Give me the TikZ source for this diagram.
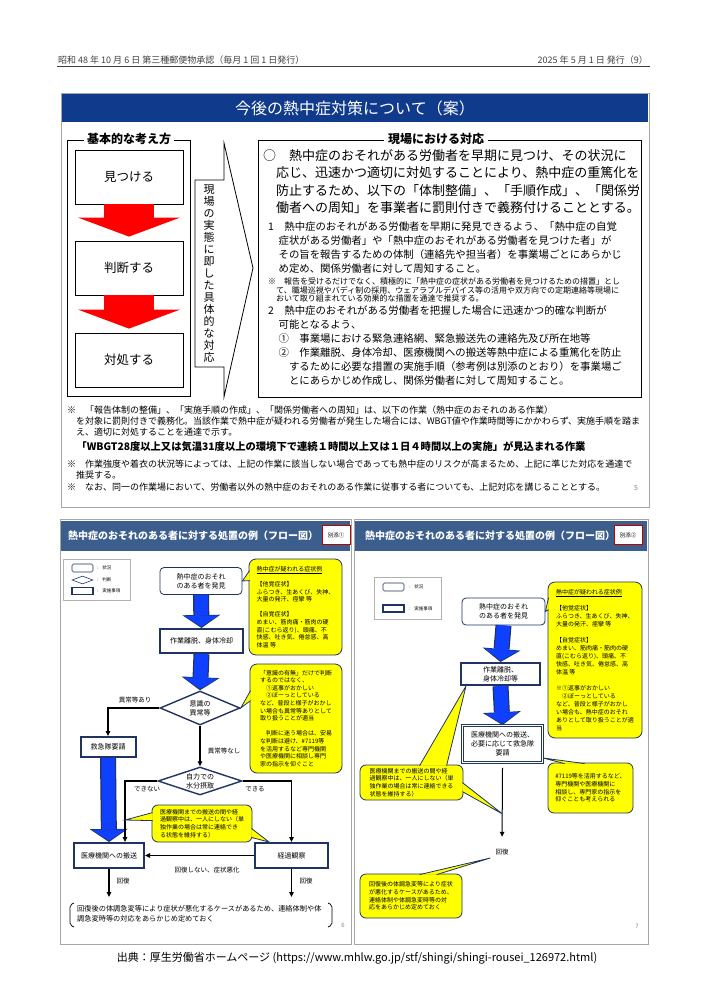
\documentclass[tikz,border=0pt]{standalone}
\usepackage{fontspec}
\setmainfont{Noto Sans CJK JP}
\usetikzlibrary{arrows.meta,shapes.geometric,positioning,calc}
\definecolor{topblue}{RGB}{16,58,140}
\definecolor{barblue}{RGB}{59,94,140}
\definecolor{navy}{RGB}{31,52,96}
\definecolor{arrowblue}{RGB}{16,64,255}
\definecolor{callyellow}{RGB}{255,255,0}
\newcommand\fs[2]{\fontsize{#1}{#2}\selectfont}

\begin{document}
\begin{tikzpicture}[
            x=1pt, y=-1pt,
            hdr/.style={font=\fs{9}{11}, text=black!75, inner sep=0pt},
            txt/.style={inner sep=0pt, align=left, anchor=north west},
            kbox/.style={draw, line width=0.8pt, minimum width=108pt, minimum height=54pt, font=\fs{12.5}{14}},
            redarrow/.style={draw=red, line width=50pt, -{Triangle[length=19pt, width=102pt, line width=0pt]}},
            blueedge/.style={draw=navy, line width=16pt, -{Triangle[length=13pt, width=38pt, line width=0pt]}},
            bluearrow/.style={draw=arrowblue, line width=13.5pt, shorten >=1.3pt, -{Triangle[length=11pt, width=34pt, line width=0pt]}},
            state/.style={draw=navy, line width=0.8pt, rounded corners=4pt, fill=white, align=center, font=\fs{7}{9}, inner sep=1pt},
            action/.style={draw=navy, line width=2pt, fill=white, align=center, font=\fs{7}{9}, inner sep=1pt},
            decide/.style={diamond, aspect=2.6, draw=navy, line width=1.4pt, fill=white, align=center, font=\fs{7}{9}, inner sep=0pt},
            callout/.style={draw=navy, line width=0.8pt, fill=callyellow, rounded corners=7pt, align=left, font=\fs{6}{7.6}, inner sep=0pt},
            wedge/.style={draw=navy, line width=0.8pt, fill=callyellow},
            flow/.style={-{Triangle[length=5pt, width=4.5pt]}, line width=1.2pt},
            lbl/.style={font=\fs{6.5}{8}, inner sep=0pt},
            legend/.style={font=\fs{4.5}{5}, inner sep=0pt, anchor=west},
            betten/.style={draw=red!75!black, line width=0.9pt, fill=white, minimum width=28pt, minimum height=19pt, font=\fs{5.5}{6}, inner sep=0pt},
            bartitle/.style={text=white, font=\bfseries\fs{10}{12}, inner sep=0pt, anchor=west}
        ]
\useasboundingbox (0,0) rectangle (707,1000);

% header
            \node[hdr, anchor=west] (date) at (58,60) {昭和 48 年 10 月 6 日 第三種郵便物承認（毎月 1 回 1 日発行）};
            \node[hdr, anchor=east] (issue) at (648,60) {2025 年 5 月 1 日 発行（9）};
            \draw[line width=1pt, black!75] (57,67) -- (650,67);

% upper panel
            \draw[gray!70] (61,93) rectangle (649,507);
            \fill[topblue] (62,94) rectangle (648,122);
            \node[text=white, font=\fs{16}{18}] (title) at (355,108) {今後の熱中症対策について（案）};

% basic approach
            \draw[line width=0.8pt] (67,140) rectangle (190,396);
            \node[fill=white, font=\bfseries\fs{12}{14}, inner sep=3pt] (kihon) at (129,139) {基本的な考え方};
            \node[kbox] (find) at (129,177) {見つける};
            \node[kbox] (judge) at (129,268) {判断する};
            \node[kbox] (act) at (129,360) {対処する};
            \draw[redarrow, shorten >=4pt] (find.south) -- (judge.north);
            \draw[redarrow, shorten >=4pt] (judge.south) -- (act.north);

% pentagon arrow
            \draw[line width=0.8pt] (195,180) -- (224,180) -- (224,143) -- (253,268) -- (224,397) -- (224,367) -- (195,367) -- cycle;
            \node[align=center, font=\fs{11}{12}, inner sep=0pt] (jissai) at (209,274) {現\\場\\の\\実\\態\\に\\即\\し\\た\\具\\体\\的\\な\\対\\応};

% on-site response
            \draw[line width=0.8pt] (258,140) rectangle (641,397);
            \node[fill=white, font=\bfseries\fs{12}{14}, inner sep=4pt] (genba) at (436,139) {現場における対応};
            \node[txt, font=\fs{13}{17.5}] (maru) at (263,149) {○　熱中症のおそれがある労働者を早期に見つけ、その状況に\\　応じ、迅速かつ適切に対処することにより、熱中症の重篤化を\\　防止するため、以下の「体制整備」、「手順作成」、「関係労\\　働者への周知」を事業者に罰則付きで義務付けることとする。};
            \draw[double, double distance=1.2pt, line width=0.7pt] (262,216) rectangle (636,390);
            \node[txt, font=\fs{10.4}{14}] (item1) at (268,222) {1　熱中症のおそれがある労働者を早期に発見できるよう、「熱中症の自覚\\　症状がある労働者」や「熱中症のおそれがある労働者を見つけた者」が\\　その旨を報告するための体制（連絡先や担当者）を事業場ごとにあらかじ\\　め定め、関係労働者に対して周知すること。};
            \node[txt, font=\fs{8}{8.4}] (note0) at (268,278) {※　報告を受けるだけでなく、積極的に「熱中症の症状がある労働者を見つけるための措置」とし\\　て、職場巡視やバディ制の採用、ウェアラブルデバイス等の活用や双方向での定期連絡等現場に\\　おいて取り組まれている効果的な措置を通達で推奨する。};
            \node[txt, font=\fs{10.4}{14}] (item2) at (268,305) {2　熱中症のおそれがある労働者を把握した場合に迅速かつ的確な判断が\\　可能となるよう、\\　①　事業場における緊急連絡網、緊急搬送先の連絡先及び所在地等\\　②　作業離脱、身体冷却、医療機関への搬送等熱中症による重篤化を防止\\　　するために必要な措置の実施手順（参考例は別添のとおり）を事業場ご\\　　とにあらかじめ作成し、関係労働者に対して周知すること。};

% notes
            \node[txt, font=\fs{9}{11}] (note1) at (67,406) {※　「報告体制の整備」、「実施手順の作成」、「関係労働者への周知」は、以下の作業（熱中症のおそれのある作業）\\　を対象に罰則付きで義務化。当該作業で熱中症が疑われる労働者が発生した場合には、WBGT値や作業時間等にかかわらず、実施手順を踏ま\\　え、適切に対処することを通達で示す。};
            \node[font=\bfseries\fs{10.3}{12}, inner sep=0pt] (wbgt) at (331,447) {「WBGT28度以上又は気温31度以上の環境下で連続１時間以上又は１日４時間以上の実施」が見込まれる作業};
            \node[txt, font=\fs{9}{11}] (note2) at (67,460) {※　作業強度や着衣の状況等によっては、上記の作業に該当しない場合であっても熱中症のリスクが高まるため、上記に準じた対応を通達で\\　推奨する。};
            \node[txt, font=\fs{9}{11}] (note3) at (67,483) {※　なお、同一の作業場において、労働者以外の熱中症のおそれのある作業に従事する者についても、上記対応を講じることとする。};
            \node[font=\fs{7}{8}, text=gray, inner sep=0pt] (pgfive) at (636,488) {5};

% flow chart 1 frame
            \draw[gray!70] (60,519) rectangle (351,944);
            \fill[barblue] (61,521) rectangle (350,551);
            \node[bartitle] (titleA) at (68,536) {熱中症のおそれのある者に対する処置の例（フロー図）};
            \node[betten] (bettenA) at (336,535) {別添①};
            \draw[gray!60] (63,559) rectangle (130,600);
            \node[state, minimum width=21pt, minimum height=8pt, inner sep=0pt, rounded corners=1.5pt, line width=0.6pt] (lsA) at (82.5,568) {};
            \node[decide, minimum width=21pt, minimum height=8pt, line width=0.6pt] (ldA) at (82.5,580) {};
            \node[action, minimum width=21pt, minimum height=7pt, inner sep=0pt, line width=1.3pt] (laA) at (82.5,591) {};
            \node[legend] at (97,568) {:\hspace{4pt}状況};
            \node[legend] at (97,580) {:\hspace{4pt}判断};
            \node[legend] at (97,591) {:\hspace{4pt}実施事項};

% flow chart 1 nodes
            \node[state, minimum width=82pt, minimum height=27pt] (s1) at (201,581) {熱中症のおそれ\\のある者を発見};
            \node[action, minimum width=83pt, minimum height=24pt] (a1) at (201.5,641) {作業離脱、身体冷却};
            \node[decide, minimum width=80pt, minimum height=34pt] (d1) at (200,708) {意識の\\異常等};
            \node[action, minimum width=55pt, minimum height=20pt] (a2) at (108,747) {救急隊要請};
            \node[decide, minimum width=84pt, minimum height=28pt] (d2) at (200,781) {自力での\\水分摂取};
            \node[action, minimum width=70pt, minimum height=25pt] (a3) at (109,855.5) {医療機関への搬送};
            \node[action, minimum width=73pt, minimum height=25pt] (a4) at (291.5,855.5) {経過観察};
            \coordinate (endA) at (109,897);
            \coordinate (endB) at (291.5,897);
            \coordinate (nx) at ($(a3.north)+(16,-22)$);

% flow chart 1 edges
            \draw[blueedge] (s1.south) -- (a1.north);
            \draw[bluearrow] (s1.south) -- (a1.north);
            \draw[blueedge] (a1.south) -- (d1.north);
            \draw[bluearrow] (a1.south) -- (d1.north);
            \draw[blueedge] (a2.south) -- (a3.north);
            \draw[bluearrow] (a2.south) -- (a3.north);
            \draw[flow] (d1.west) -| (a2.north);
            \draw[flow] (d1.south) -- (d2.north);
            \draw[flow] (d2.west) -| ($(a3.north)+(16,0)$);
            \draw[flow] (d2.east) -| (a4.north);
            \draw[flow] (a4.west) -- (a3.east);
            \draw[flow] (a3.south) -- (endA);
            \draw[flow] (a4.south) -- (endB);

% flow chart 1 labels
            \node[lbl] at (135,700) {異常等あり};
            \node[lbl] at (224,751) {異常等なし};
            \node[lbl] at (147,789) {できない};
            \node[lbl] at (255,789) {できる};
            \node[lbl] at (207,870) {回復しない、症状悪化};
            \node[lbl] at (123,881) {回復};
            \node[lbl] at (306,881) {回復};

% flow chart 1 callouts
            \node[callout, minimum width=93pt, minimum height=96pt] (c1) at (295.5,607) {\underline{熱中症が疑われる症状例}\\[7.6pt]【他覚症状】\\ふらつき、生あくび、失神、\\大量の発汗、痙攣 等\\[7.6pt]【自覚症状】\\めまい、筋肉痛・筋肉の硬\\直(こむら返り)、頭痛、不\\快感、吐き気、倦怠感、高\\体温 等};
            \filldraw[wedge] ($(c1.north west)+(1,12)$) -- (s1.east) -- ($(c1.north west)+(1,22)$);
            \node[callout, minimum width=92pt, minimum height=109pt] (c2) at (296,718.5) {「意識の有無」だけで判断\\するのではなく、\\　①返事がおかしい\\　②ぼーっとしている\\など、普段と様子がおかし\\い場合も異常等ありとして\\取り扱うことが適当\\[7.6pt]　判断に迷う場合は、安易\\な判断は避け、\#7119等\\を活用するなど専門機関\\や医療機関に相談し専門\\家の指示を仰ぐこと};
            \filldraw[wedge] ($(c2.north west)+(1,27)$) -- (d1.east) -- ($(c2.north west)+(1,37)$);
            \node[callout, rounded corners=6pt, minimum width=100pt, minimum height=37pt] (c3) at (202,823.5) {医療機関までの搬送の間や経\\過観察中は、一人にしない（単\\独作業の場合は常に連絡でき\\る状態を維持する）};
            \filldraw[wedge] ($(c3.north west)+(1,8)$) -- (nx) -- ($(c3.north west)+(1,16)$);
            \filldraw[wedge] ($(c3.south east)+(-1,-14)$) -- ($(a4.north west)+(15,0)$) -- ($(c3.south east)+(-1,-5)$);

% flow chart 1 footnote
            \draw[line width=0.7pt, rounded corners=2pt] (74,903) -- (70,905) -- (70,925) -- (74,927);
            \draw[line width=0.7pt, rounded corners=2pt] (328,903) -- (332,905) -- (332,925) -- (328,927);
            \node[txt, font=\fs{7.2}{10}] (afterA) at (77,905) {回復後の体調急変等により症状が悪化するケースがあるため、連絡体制や体\\調急変時等の対応をあらかじめ定めておく};
            \node[font=\fs{6}{7}, text=gray, inner sep=0pt] (pgsix) at (343,925) {6};

% flow chart 2 frame
            \draw[gray!70] (354,519) rectangle (648,944);
            \fill[barblue] (355,521) rectangle (647,551);
            \node[bartitle] (titleB) at (365,536) {熱中症のおそれのある者に対する処置の例（フロー図）};
            \node[betten] (bettenB) at (628,535) {別添②};
            \draw[gray!60] (374,577) rectangle (441,619);
            \node[state, minimum width=21pt, minimum height=8pt, inner sep=0pt, rounded corners=1.5pt, line width=0.6pt] (lsB) at (393.5,587) {};
            \node[action, minimum width=21pt, minimum height=7pt, inner sep=0pt, line width=1.3pt] (laB) at (393.5,608.5) {};
            \node[legend] at (409,587) {:\hspace{4pt}状況};
            \node[legend] at (409,608.5) {:\hspace{4pt}実施事項};

% flow chart 2 nodes
            \node[state, minimum width=83pt, minimum height=27pt] (r1) at (503.5,611.5) {熱中症のおそれ\\のある者を発見};
            \node[action, minimum width=79pt, minimum height=22pt] (r2) at (500.5,674) {作業離脱、\\身体冷却等};
            \node[action, line width=0.9pt, double=white, double distance=1.4pt, minimum width=80pt, minimum height=37pt] (r3) at (502.5,744) {医療機関への搬送、\\必要に応じて救急隊\\要請};
            \node[lbl] (r4) at (502,852) {回復};
            \coordinate (ln) at ($(r3.south)+(0,51)$);

% flow chart 2 edges
            \draw[blueedge] (r1.south) -- (r2.north);
            \draw[bluearrow] (r1.south) -- (r2.north);
            \draw[blueedge] (r2.south) -- (r3.north);
            \draw[bluearrow] (r2.south) -- (r3.north);
            \draw[flow, line width=1pt, shorten >=12pt] ($(r3.south)+(0,5)$) -- (r4.north);

% flow chart 2 callouts
            \node[callout, font=\fs{6}{8}, minimum width=94pt, minimum height=156pt] (rc1) at (595,660) {\underline{熱中症が疑われる症状例}\\[8pt]【他覚症状】\\ふらつき、生あくび、失神、\\大量の発汗、痙攣 等\\[8pt]【自覚症状】\\めまい、筋肉痛・筋肉の硬\\直(こむら返り)、頭痛、不\\快感、吐き気、倦怠感、高\\体温 等\\[8pt]※①返事がおかしい\\　②ぼーっとしている\\など、普段と様子がおかし\\い場合も、熱中症のおそれ\\ありとして取り扱うことが適\\当};
            \filldraw[wedge] ($(rc1.north west)+(1,16)$) -- (r1.east) -- ($(rc1.north west)+(1,28)$);
            \node[callout, rounded corners=6pt, minimum width=103pt, minimum height=35pt] (rc2) at (411.5,782.5) {医療機関までの搬送の間や経\\過観察中は、一人にしない（単\\独作業の場合は常に連絡できる\\状態を維持する）};
            \filldraw[wedge] ($(rc2.north west)+(60,1)$) -- ($(r2.south west)+(6,0)$) -- ($(rc2.north west)+(87,1)$);
            \filldraw[wedge] ($(rc2.north east)+(-1,18)$) -- (ln) -- ($(rc2.north east)+(-1,27)$);
            \node[callout, rounded corners=6pt, minimum width=85pt, minimum height=50pt] (rc3) at (590.5,788) {\#7119等を活用するなど、\\専門機関や医療機関に\\相談し、専門家の指示を\\仰ぐことも考えられる};
            \filldraw[wedge] ($(rc3.north west)+(17,1)$) -- ($(r3.south east)+(0,-5)$) -- ($(rc3.north west)+(37,1)$);
            \node[callout, rounded corners=6pt, minimum width=102pt, minimum height=44pt] (rc4) at (411,896) {回復後の体調急変等により症状\\が悪化するケースがあるため、\\連絡体制や体調急変時等の対\\応をあらかじめ定めておく};
            \filldraw[wedge] ($(rc4.north west)+(60,1)$) -- ($(r4.west)+(-5,6)$) -- ($(rc4.north west)+(77,1)$);
            \node[font=\fs{6}{7}, text=gray, inner sep=0pt] (pgseven) at (637,926) {7};

% source
            \node[font=\fs{11}{13}, inner sep=0pt] (source) at (357,958) {出典：厚生労働省ホームページ (https://www.mhlw.go.jp/stf/shingi/shingi-rousei\_126972.html)};

        \end{tikzpicture}
\end{document}
